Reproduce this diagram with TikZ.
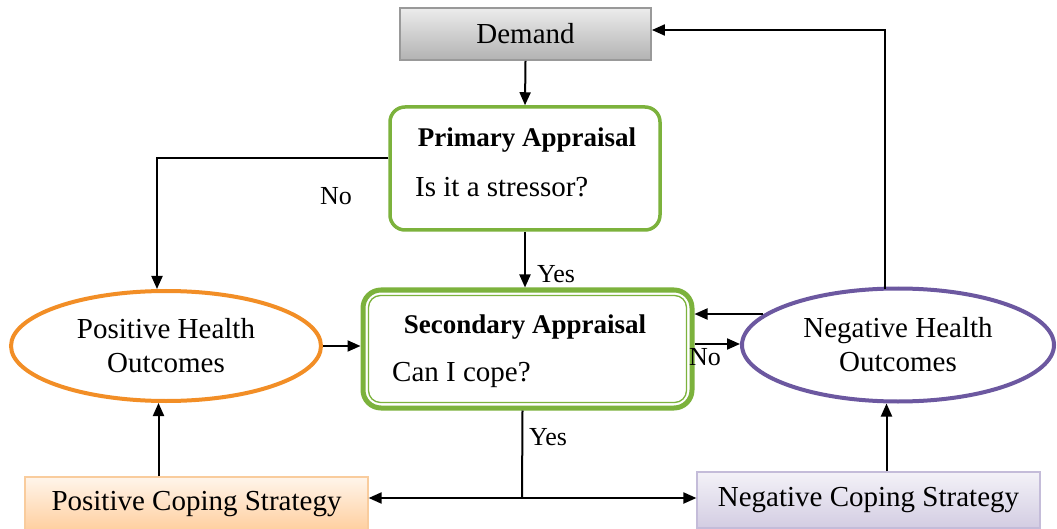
\documentclass[tikz,border=0pt]{standalone}
\usepackage{fontspec}
\setmainfont{Liberation Serif}
\usetikzlibrary{shapes.geometric,arrows.meta,calc}
\definecolor{grn}{RGB}{124,178,60}
\definecolor{org}{RGB}{242,142,38}
\definecolor{pur}{RGB}{108,88,160}
\begin{document}
\begin{tikzpicture}[x=1pt,y=-1pt,
  txt/.style={font=\fontsize{29}{34}\selectfont, inner sep=0pt},
  btxt/.style={font=\fontsize{27}{30}\selectfont\bfseries, inner sep=0pt},
  conn/.style={line width=2pt, draw=black},
  arr/.style={conn, -{Triangle[length=13pt,width=11pt]}},
  lbl/.style={font=\fontsize{26}{28}\selectfont, inner sep=0pt},
  ell/.style={ellipse, line width=4pt, fill=white, inner sep=0pt, align=center,
    font=\fontsize{29}{34}\selectfont},
  bx/.style={rectangle, inner sep=0pt, font=\fontsize{29}{34}\selectfont}
]
\useasboundingbox (0,0) rectangle (1057,529);
\fill[white] (0,0) rectangle (1057,529);

% Demand
\node[bx, draw=gray!80, line width=1.8pt, top color=gray!15, bottom color=gray!60,
  minimum width=251pt, minimum height=52pt] (dem) at (525.5,34) {Demand};

% Primary appraisal
\node[draw=grn, line width=3.5pt, rounded corners=15pt, fill=white,
  minimum width=270pt, minimum height=123pt] (prim) at (525,168.5) {};
\node[btxt] (primT) at (527,140) {Primary Appraisal};
\node[txt, anchor=west] (primQ) at (415,187) {Is it a stressor?};

% Secondary appraisal
\node[draw=grn, line width=5pt, rounded corners=18pt, fill=white,
  minimum width=329pt, minimum height=118pt] (sec) at (527.5,349) {};
\draw[grn, line width=1.3pt, rounded corners=12pt]
  ([shift={(8,8)}]sec.north west) rectangle ([shift={(-8,-8)}]sec.south east);
\node[btxt] (secT) at (525,327) {Secondary Appraisal};
\node[txt, anchor=west] (secQ) at (392,375) {Can I cope?};

% Ellipses
\node[ell, draw=org, minimum width=310pt, minimum height=110pt] (pho) at (166,346)
  {Positive Health\\Outcomes};
\node[ell, draw=pur, minimum width=312pt, minimum height=113pt] (nho) at (898,345)
  {Negative Health\\Outcomes};

% Coping strategy boxes
\node[bx, draw=org!45, line width=1.2pt, top color=orange!8, bottom color=orange!38,
  minimum width=343pt, minimum height=54pt] (pcs) at (196.5,504) {Positive Coping Strategy};
\node[bx, draw=pur!40, line width=1.2pt, top color=pur!8, bottom color=pur!30,
  minimum width=343pt, minimum height=56pt] (ncs) at (868.5,500) {Negative Coping Strategy};

% Connectors
\draw[arr] (dem.south) -- (prim.north);
\draw[arr] ([yshift=10pt]prim.west) -| ([xshift=-9pt]pho.north);
\node[lbl] (no1) at (336,196) {No};
\draw[arr] (prim.south) -- (prim.south |- sec.north);
\node[lbl] (yes1) at (556,274) {Yes};
\draw[arr] (pho.east) -- (pho.east -| sec.west);
\coordinate (nhoIn) at (763,314);
\draw[arr] (nhoIn) -- (nhoIn -| sec.east);
\draw[arr] ([yshift=5pt]sec.east) -- ([yshift=5pt]sec.east -| nho.west);
\node[lbl] (no2) at (705,357) {No};
\coordinate (nhoTop) at (885,289);
\coordinate (corner) at (885,30);
\draw[arr] (nhoTop) -- (corner) -- (corner -| dem.east);
\coordinate (split) at (522,498);
\draw[conn] ([xshift=-5pt]sec.south) -- (split);
\node[lbl] (yes2) at (548,437) {Yes};
\draw[arr] (split) -- (split -| pcs.east);
\draw[arr] (split) -- (split -| ncs.west);
\draw[arr] ([xshift=-38pt]pcs.north) -- ([xshift=-38pt]pcs.north |- pho.south);
\draw[arr] ([xshift=18pt]ncs.north) -- ([xshift=18pt]ncs.north |- nho.south);
\end{tikzpicture}
\end{document}
